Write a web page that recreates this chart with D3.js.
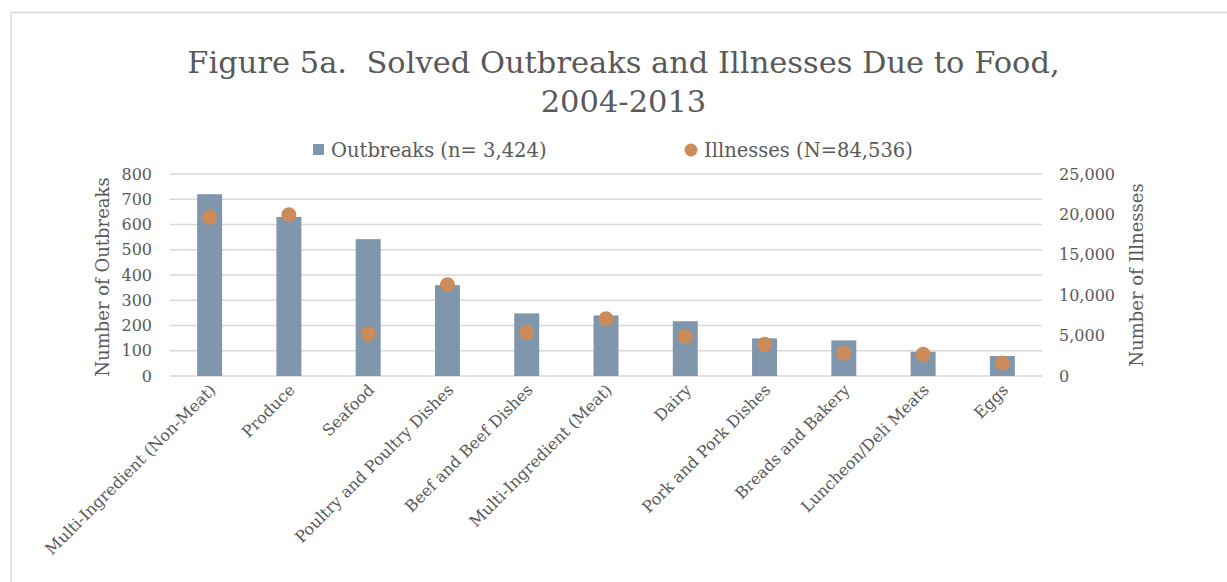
<!DOCTYPE html>
<html>
<head>
<meta charset="utf-8">
<script src="https://cdn.jsdelivr.net/npm/d3@7"></script>
<style>
  body { margin: 0; background: #fff; }
  text { font-family: "DejaVu Serif", serif; fill: #595959; }
</style>
</head>
<body>
<div id="chart"></div>
<script>
"use strict"

// chart data
let categories = ["Multi-Ingredient (Non-Meat)", "Produce", "Seafood", "Poultry and Poultry Dishes",
    "Beef and Beef Dishes", "Multi-Ingredient (Meat)", "Dairy", "Pork and Pork Dishes",
    "Breads and Bakery", "Luncheon/Deli Meats", "Eggs"];
let outbreaks = [720, 630, 542, 360, 248, 240, 217, 149, 141, 96, 79];
let illnesses = [19640, 19960, 5240, 11300, 5400, 7090, 4910, 3920, 2810, 2690, 1610];
let leftTicks = [0, 100, 200, 300, 400, 500, 600, 700, 800];
let rightTicks = [0, 5000, 10000, 15000, 20000, 25000];
let titleLines = ["Figure 5a.  Solved Outbreaks and Illnesses Due to Food,", "2004-2013"];
let legendLabels = ["Outbreaks (n= 3,424)", "Illnesses (N=84,536)"];

let width = 1227,
    height = 582;

let barColor = "#7f96ad",
    dotColor = "#cc8b5b",
    gridColor = "#d9d9d9";

let svg = d3.select("#chart")
    .append("svg")
    .attr("width", width)
    .attr("height", height);

// outer chart border (runs off the right and bottom edges)
svg.append("rect")
    .attr("x", 11)
    .attr("y", 12.5)
    .attr("width", 1300)
    .attr("height", 700)
    .attr("fill", "none")
    .attr("stroke", gridColor)
    .attr("stroke-width", 1.5);

// scales
let x = d3.scaleBand()
    .domain(categories)
    .range([170, 1042])
    .paddingInner(0.685)
    .paddingOuter(0.3425);

let yLeft = d3.scaleLinear().domain([0, 800]).range([376, 174]);
let yRight = d3.scaleLinear().domain([0, 25000]).range([376, 174]);

// gridlines
svg.append("g")
    .selectAll("line")
    .data(leftTicks)
    .enter()
    .append("line")
    .attr("x1", 170)
    .attr("x2", 1042)
    .attr("y1", d => yLeft(d))
    .attr("y2", d => yLeft(d))
    .attr("stroke", gridColor)
    .attr("stroke-width", 1.5);

// left axis
let leftAxis = svg.append("g")
    .attr("transform", "translate(160,0)")
    .call(d3.axisLeft(yLeft).tickValues(leftTicks).tickSize(0).tickPadding(8));
leftAxis.select(".domain").remove();
leftAxis.selectAll("text")
    .style("font-size", "16px")
    .style("font-family", "DejaVu Serif")
    .attr("fill", "#595959");

// right axis
let rightAxis = svg.append("g")
    .attr("transform", "translate(1051,0)")
    .call(d3.axisRight(yRight).tickValues(rightTicks).tickSize(0).tickPadding(8)
        .tickFormat(d3.format(",")));
rightAxis.select(".domain").remove();
rightAxis.selectAll("text")
    .style("font-size", "16px")
    .style("font-family", "DejaVu Serif")
    .attr("fill", "#595959");

// bars
svg.append("g")
    .selectAll("rect")
    .data(outbreaks)
    .enter()
    .append("rect")
    .attr("x", (d, i) => x(categories[i]))
    .attr("width", x.bandwidth())
    .attr("y", d => yLeft(d))
    .attr("height", d => yLeft(0) - yLeft(d))
    .attr("fill", barColor);

// dots for illnesses
svg.append("g")
    .selectAll("circle")
    .data(illnesses)
    .enter()
    .append("circle")
    .attr("cx", (d, i) => x(categories[i]) + x.bandwidth() / 2)
    .attr("cy", d => yRight(d))
    .attr("r", 7.5)
    .attr("fill", dotColor);

// category labels, rotated
svg.append("g")
    .selectAll("text")
    .data(categories)
    .enter()
    .append("text")
    .attr("transform", d => "translate(" + (x(d) + x.bandwidth() / 2 + 7) + ",391) rotate(-45)")
    .attr("text-anchor", "end")
    .style("font-size", "16px")
    .text(d => d);

// axis titles
svg.append("text")
    .attr("transform", "translate(109,277) rotate(-90)")
    .attr("text-anchor", "middle")
    .style("font-size", "18px")
    .text("Number of Outbreaks");

svg.append("text")
    .attr("transform", "translate(1143,275) rotate(-90)")
    .attr("text-anchor", "middle")
    .style("font-size", "18px")
    .text("Number of Illnesses");

// title
svg.append("g")
    .selectAll("text")
    .data(titleLines)
    .enter()
    .append("text")
    .attr("x", 623.5)
    .attr("y", (d, i) => 73 + i * 39)
    .attr("text-anchor", "middle")
    .style("font-size", "30.5px")
    .style("white-space", "pre")
    .text(d => d);

// legend
let legend = svg.append("g");
legend.append("rect")
    .attr("x", 313)
    .attr("y", 144)
    .attr("width", 11)
    .attr("height", 11)
    .attr("fill", barColor);
legend.append("text")
    .attr("x", 331)
    .attr("y", 157)
    .style("font-size", "19.5px")
    .text(legendLabels[0]);
legend.append("circle")
    .attr("cx", 691)
    .attr("cy", 150)
    .attr("r", 6.5)
    .attr("fill", dotColor);
legend.append("text")
    .attr("x", 704)
    .attr("y", 157)
    .style("font-size", "19.5px")
    .text(legendLabels[1]);
</script>
</body>
</html>
